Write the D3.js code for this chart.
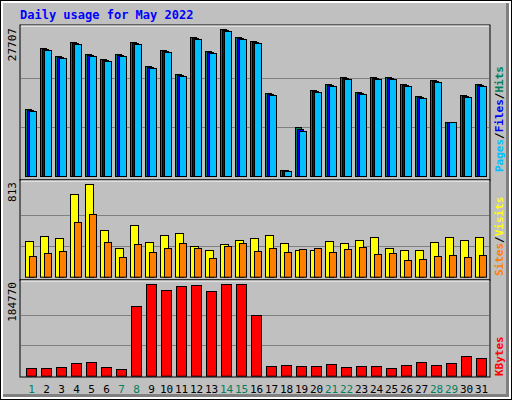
<!DOCTYPE html>
<html><head><meta charset="utf-8">
<script src="https://cdn.jsdelivr.net/npm/d3@7"></script>
<style>body{margin:0;background:#fff}svg{display:block}</style>
</head><body>
<script>
const days = d3.range(1,32);
const weekend = [1,7,8,14,15,21,22,28,29];
const hits  = [12630,24128,22620,25259,22997,22055,22997,25259,20735,23751,19227,26202,23563,27707,26202,25448,15646,1131,9237,16211,17342,18662,15834,18662,18662,17342,15080,18096,10179,15269,17342];
const files = [12440,23940,22430,25070,22810,21865,22810,25070,20545,23560,19040,26010,23375,27520,26010,25260,15460,1050,8860,16020,17150,18470,15645,18470,18470,17150,14890,17905,10179,15080,17150];
const pages = [12250,23750,22240,24880,22620,21680,22620,24880,20360,23370,18850,25820,23180,27330,25820,25070,15270,950,8480,15830,16960,18280,15460,18280,18280,16960,14700,17720,10179,14890,16960];
const visits= [311,355,338,725,813,408,249,452,302,364,382,267,232,285,320,338,364,294,232,232,311,294,320,346,249,232,232,302,346,320,346];
const sites = [179,205,223,478,549,302,170,285,214,249,294,249,161,267,294,223,249,214,241,249,214,241,258,197,205,144,153,179,188,170,188];
const kbytes= [15509,15509,17532,25623,27646,17532,13486,140254,184770,172621,180712,182735,170598,184770,184770,122048,19555,21578,19555,19555,23601,17532,19555,19555,15509,21578,27646,21578,25623,39784,35738];
const C = {hits:"#00805c",files:"#0000ff",pages:"#00c0ff",visits:"#ffff00",sites:"#ff8000",kb:"#ff0000"};

const svg = d3.select("body").append("svg").attr("width",512).attr("height",400);
const mono = "DejaVu Sans Mono, monospace";
// background & bevel
svg.append("rect").attr("width",512).attr("height",400).attr("fill","#000");
svg.append("rect").attr("x",1).attr("y",1).attr("width",510).attr("height",398).attr("fill","#fff");
svg.append("rect").attr("x",3).attr("y",3).attr("width",506).attr("height",394).attr("fill","#808080");
svg.append("rect").attr("x",3).attr("y",3).attr("width",503).attr("height",391).attr("fill","#c0c0c0");

svg.append("text").attr("x",20).attr("y",19).text("Daily usage for May 2022")
  .attr("font-family",mono).attr("font-weight","bold").attr("font-size",12).attr("fill","#0000ff");

const x = d3.scaleBand().domain(days).range([25,490]).padding(0);

function panel(y0,y1,bot,top,max){
  svg.append("rect").attr("x",20).attr("y",y0).attr("width",470).attr("height",y1-y0)
    .attr("fill","#c0c0c0").attr("stroke","#000").attr("stroke-width",1);
  svg.append("line").attr("x1",21).attr("x2",489).attr("y1",y0+1).attr("y2",y0+1).attr("stroke","#fff");
  const y = d3.scaleLinear().domain([0,max]).range([bot,top]);
  [1,2].forEach(k=>{
    const gy = Math.round(bot-(bot-top)*k/3)+0.5;
    svg.append("line").attr("x1",21).attr("x2",489).attr("y1",gy).attr("y2",gy).attr("stroke","#808080");
  });
  return y;
}
function bars(data,y,dx,w,col){
  svg.append("g").selectAll("rect").data(data).join("rect")
    .attr("x",(d,i)=>x(days[i])+dx+0.5).attr("y",d=>Math.round(y(d))+0.5)
    .attr("width",w).attr("height",d=>y(0)-Math.round(y(d)))
    .attr("fill",col).attr("stroke","#000");
}
function vlabel(t,xx,yy,col,anchor){
  svg.append("text").attr("transform",`translate(${xx},${yy}) rotate(-90)`).attr("text-anchor",anchor||"end")
   .attr("font-family",mono).attr("font-size",11).attr("fill",col).text(t);
}
// top
const y1 = panel(25,180,176,29,27707);
bars(hits,y1,0,6,C.hits);
bars(files,y1,2,6,C.files);
bars(pages,y1,4,7,C.pages);
vlabel("27707",16,28,"#000");
const r1 = svg.append("text").attr("transform","translate(503,172) rotate(-90)").attr("font-family",mono).attr("font-size",11).attr("font-weight","bold");
r1.append("tspan").attr("fill",C.pages).text("Pages");
r1.append("tspan").attr("fill","#000").text("/");
r1.append("tspan").attr("fill",C.files).text("Files");
r1.append("tspan").attr("fill","#000").text("/");
r1.append("tspan").attr("fill",C.hits).text("Hits");
// middle
const y2 = panel(180,280,276.7,184.3,813);
bars(visits,y2,0,8,C.visits);
bars(sites,y2,4,7,C.sites);
vlabel("813",16,182,"#000");
const r2 = svg.append("text").attr("transform","translate(503,276) rotate(-90)").attr("font-family",mono).attr("font-size",11).attr("font-weight","bold");
r2.append("tspan").attr("fill",C.sites).text("Sites");
r2.append("tspan").attr("fill","#000").text("/");
r2.append("tspan").attr("fill",C.visits).text("Visits");
// bottom
const y3 = panel(280,377,375.7,284.3,184770);
bars(kbytes,y3,1,10,C.kb);
vlabel("184770",16,282,"#000");
svg.append("text").attr("transform","translate(503,376) rotate(-90)").attr("font-family",mono).attr("font-size",11).attr("font-weight","bold").attr("fill",C.kb).text("KBytes");
// day labels
svg.append("g").selectAll("text").data(days).join("text")
  .attr("x",d=>x(d)+x.bandwidth()/2-1).attr("y",393).attr("text-anchor","middle")
  .attr("font-family",mono).attr("font-size",11)
  .attr("fill",d=>weekend.includes(d)?C.hits:"#000").text(d=>d);
</script>
</body></html>
